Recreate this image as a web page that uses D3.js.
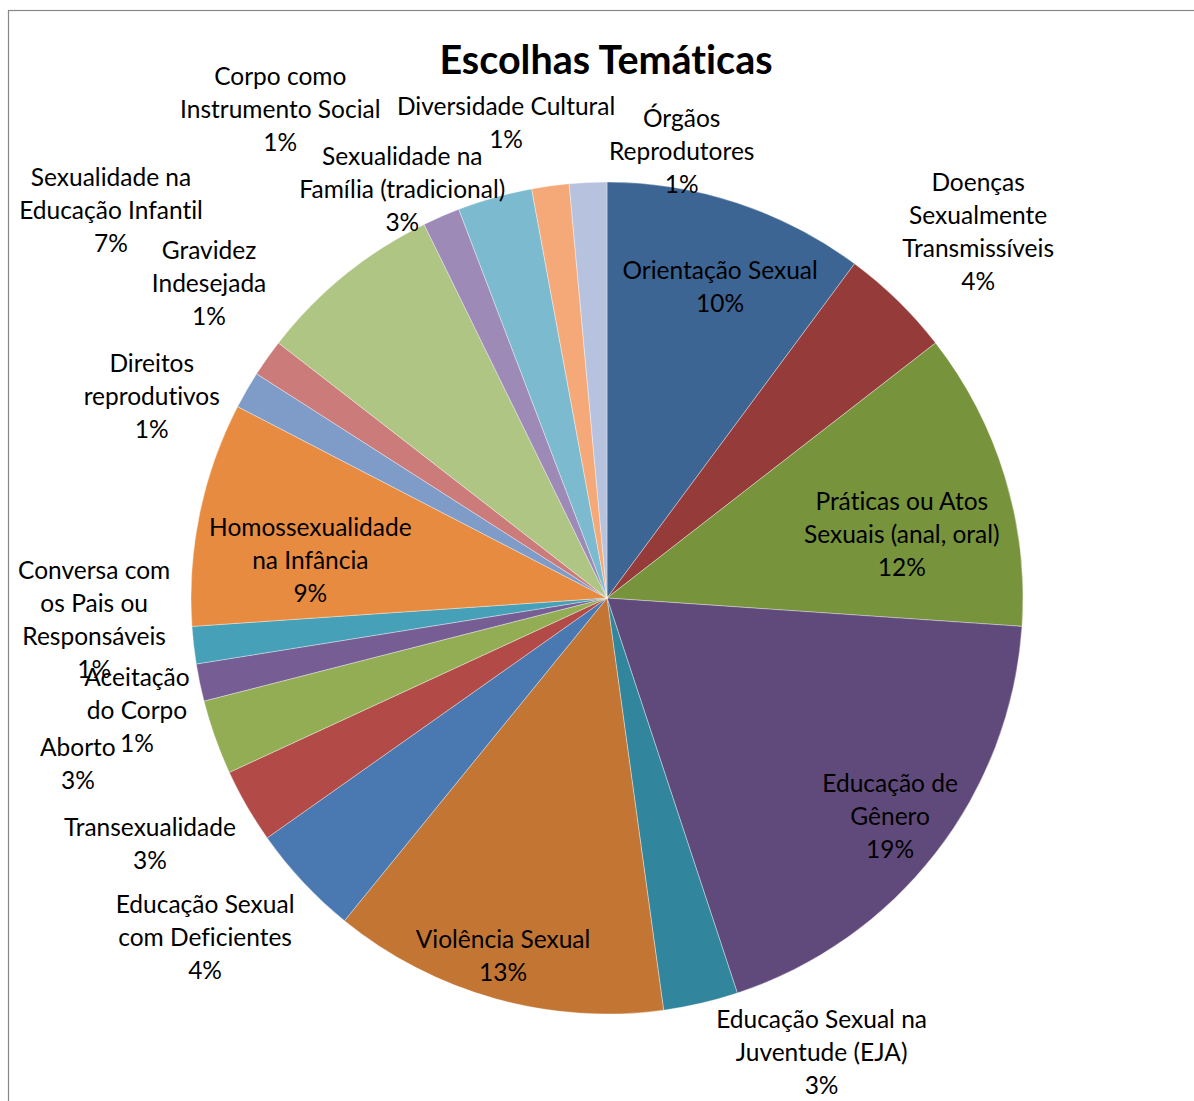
<!DOCTYPE html>
<html>
<head>
<meta charset="utf-8">
<script src="https://cdn.jsdelivr.net/npm/d3@7"></script>
<style>
    body { margin: 0; background: #fff; }
    svg { display: block; }
    text { font-variant-ligatures: none; }
    .lbl { font-family: Lato, "Open Sans", sans-serif; font-size: 24.5px; fill: #000; }
    .title { font-family: Lato, "Open Sans", sans-serif; font-size: 39.5px; font-weight: bold; fill: #000; }
</style>
</head>
<body>
<div id="chart"></div>
<script>
// Data (counts, total 69)
const categories = [
    "Orientação Sexual",
    "Doenças Sexualmente Transmissíveis",
    "Práticas ou Atos Sexuais (anal, oral)",
    "Educação de Gênero",
    "Educação Sexual na Juventude (EJA)",
    "Violência Sexual",
    "Educação Sexual com Deficientes",
    "Transexualidade",
    "Aborto",
    "Aceitação do Corpo",
    "Conversa com os Pais ou Responsáveis",
    "Homossexualidade na Infância",
    "Direitos reprodutivos",
    "Gravidez Indesejada",
    "Sexualidade na Educação Infantil",
    "Corpo como Instrumento Social",
    "Sexualidade na Família (tradicional)",
    "Diversidade Cultural",
    "Órgãos Reprodutores"
];
const values = [7, 3, 8, 13, 2, 9, 3, 2, 2, 1, 1, 6, 1, 1, 5, 1, 2, 1, 1];

// how each category name wraps in its label
const labelLines = [
    ["Orientação Sexual"],
    ["Doenças", "Sexualmente", "Transmissíveis"],
    ["Práticas ou Atos", "Sexuais (anal, oral)"],
    ["Educação de", "Gênero"],
    ["Educação Sexual na", "Juventude (EJA)"],
    ["Violência Sexual"],
    ["Educação Sexual", "com Deficientes"],
    ["Transexualidade"],
    ["Aborto"],
    ["Aceitação", "do Corpo"],
    ["Conversa com", "os Pais ou", "Responsáveis"],
    ["Homossexualidade", "na Infância"],
    ["Direitos", "reprodutivos"],
    ["Gravidez", "Indesejada"],
    ["Sexualidade na", "Educação Infantil"],
    ["Corpo como", "Instrumento Social"],
    ["Sexualidade na", "Família (tradicional)"],
    ["Diversidade Cultural"],
    ["Órgãos", "Reprodutores"]
];

const colors = [
    "#3d6594", "#953b39", "#77933c", "#604a7b", "#31859c",
    "#c37534", "#4a78b0", "#b24b48", "#92ad53", "#765d93",
    "#46a0b8", "#e78b41", "#7f9cc8", "#cb7b79", "#aec584",
    "#9d8ab6", "#7bbacf", "#f6a978", "#b7c3de"
];

// label placement: [angle in degrees clockwise from top, radius as fraction of pie radius]
const labelPolar = [
    [20.0, 0.795], [45.4, 1.253], [77.8, 0.725], [127.6, 0.859], [154.7, 1.207],
    [196.2, 0.896], [229.8, 1.265], [241.7, 1.248], [252.6, 1.333], [256.5, 1.162],
    [267.5, 1.234], [277.3, 0.719], [293.9, 1.197], [308.3, 1.219], [308.0, 1.513],
    [326.2, 1.412], [333.4, 1.099], [348.0, 1.167], [9.5, 1.088]
];

const width = 1194;
const height = 1101;
const cx = 607, cy = 598, radius = 416;
const lineH = 33;

const svg = d3.select("#chart")
    .append("svg")
    .attr("width", width)
    .attr("height", height);

// chart frame
svg.append("rect")
    .attr("x", 8.5)
    .attr("y", 10.5)
    .attr("width", width + 20)
    .attr("height", height + 20)
    .attr("fill", "none")
    .attr("stroke", "#878787")
    .attr("stroke-width", 1.2);

svg.append("text")
    .attr("class", "title")
    .attr("x", 606)
    .attr("y", 74)
    .attr("text-anchor", "middle")
    .text("Escolhas Temáticas");

const total = d3.sum(values);
const pct = d3.format(".0%");

const pie = d3.pie().sort(null).value(d => d)(values);
const arc = d3.arc().innerRadius(0).outerRadius(radius);

const g = svg.append("g").attr("transform", `translate(${cx},${cy})`);

g.selectAll(".slice")
    .data(pie)
    .enter()
    .append("path")
    .attr("class", "slice")
    .attr("d", arc)
    .attr("fill", (d, i) => colors[i])
    .attr("stroke", "rgba(255,255,255,0.45)")
    .attr("stroke-width", 0.8);

g.selectAll(".lbl")
    .data(pie)
    .enter()
    .append("text")
    .attr("class", "lbl")
    .attr("text-anchor", "middle")
    .each(function (d, i) {
        const [deg, f] = labelPolar[i];
        const [x, y] = d3.pointRadial(deg * Math.PI / 180, radius * f);
        const lines = labelLines[i].concat([pct(values[i] / total)]);
        const top = y - (lines.length - 1) * lineH / 2;
        d3.select(this).selectAll("tspan")
            .data(lines)
            .enter()
            .append("tspan")
            .attr("x", x)
            .attr("y", (l, k) => top + k * lineH)
            .attr("dy", "0.35em")
            .text(l => l);
    });
</script>
</body>
</html>
